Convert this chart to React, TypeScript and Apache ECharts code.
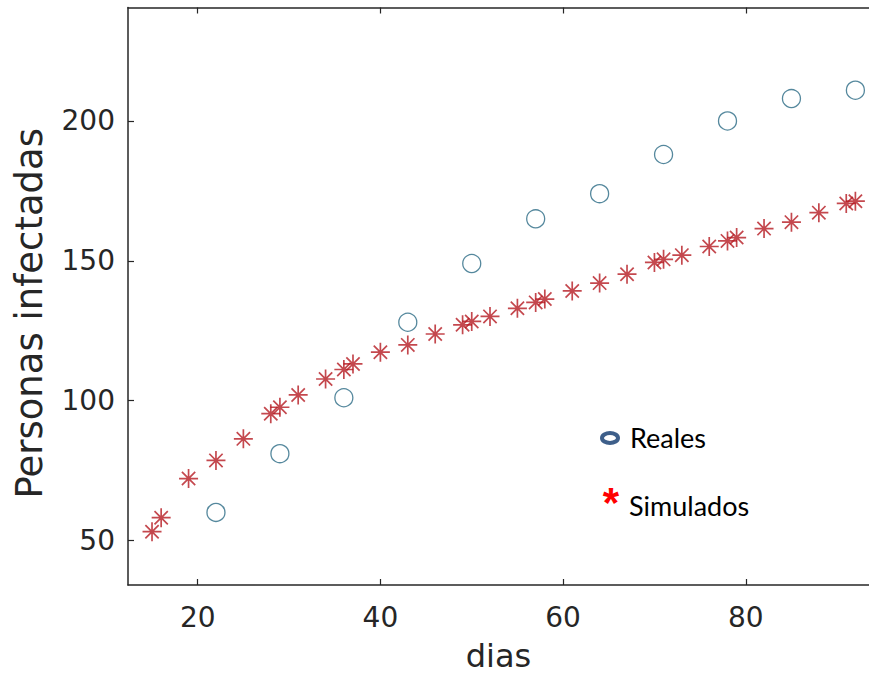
import React, { useEffect, useRef } from "react";
import * as echarts from "echarts";

const xTicks = [20, 40, 60, 80];
const yTicks = [50, 100, 150, 200];

const realesDias = [22, 29, 36, 43, 50, 57, 64, 71, 78, 85, 92];
const realesInfectados = [60, 81, 101, 128, 149, 165, 174, 188, 200, 208, 211];

const simDias = [15, 16, 19, 22, 25, 28, 29, 31, 34, 36, 37, 40, 43, 46, 49, 50, 52, 55, 57, 58, 61, 64, 67, 70, 71, 73, 76, 78, 79, 82, 85, 88, 91, 92];
const simInfectados = [53.1, 58.1, 72.1, 78.6, 86.3, 95.3, 97.6, 102, 107.7, 111.1, 113.1, 117.3, 119.9, 123.8, 127.1, 128.3, 130.1, 133, 135.1, 136.3, 139.2, 142, 145.2, 149.4, 150.5, 152, 155.1, 157.1, 158.3, 161.5, 163.8, 167.2, 170.5, 171.3];

const AXIS_COLOR = "#262626";
const FONT = "DejaVu Sans";

export default function App() {
  const ref = useRef<HTMLDivElement>(null);
  useEffect(() => {
    document.body.style.margin = "0";
    const chart = echarts.init(ref.current!, undefined, { renderer: "svg" });
    const real = realesDias.map((d, i) => [d, realesInfectados[i]]);
    const sim = simDias.map((d, i) => [d, simInfectados[i]]);
    const star = "path://M10,0L10,20M0,10L20,10M3,3L17,17M3,17L17,3";
    chart.setOption({
      animation: false,
      backgroundColor: "#ffffff",
      grid: { left: 128, top: 7.5, right: 0, bottom: 90.3, containLabel: false },
      xAxis: [
        {
          type: "value",
          min: 12.37,
          max: 93.49,
          position: "bottom",
          name: "dias",
          nameLocation: "middle",
          nameGap: 55,
          nameTextStyle: { fontFamily: FONT, fontSize: 32, color: AXIS_COLOR },
          axisLine: { show: true, onZero: false, lineStyle: { color: AXIS_COLOR, width: 1.5 } },
          axisTick: { show: true, inside: true, length: 6, customValues: xTicks, lineStyle: { color: AXIS_COLOR, width: 1.2 } },
          axisLabel: { show: true, customValues: xTicks, margin: 18, fontFamily: FONT, fontSize: 28, color: AXIS_COLOR },
          splitLine: { show: false },
        },
        {
          type: "value",
          min: 12.37,
          max: 93.49,
          position: "top",
          axisLine: { show: true, onZero: false, lineStyle: { color: AXIS_COLOR, width: 1.5 } },
          axisTick: { show: true, inside: true, length: 6, customValues: xTicks, lineStyle: { color: AXIS_COLOR, width: 1.2 } },
          axisLabel: { show: false },
          splitLine: { show: false },
        },
      ],
      yAxis: {
        type: "value",
        min: 34.03,
        max: 240.58,
        name: "Personas infectadas",
        nameLocation: "middle",
        nameGap: 80,
        nameTextStyle: { fontFamily: FONT, fontSize: 37, color: AXIS_COLOR, padding: [0, 34, 0, 0] },
        axisLine: { show: true, onZero: false, lineStyle: { color: AXIS_COLOR, width: 1.5 } },
        axisTick: { show: true, inside: true, length: 6, customValues: yTicks, lineStyle: { color: AXIS_COLOR, width: 1.2 } },
        axisLabel: { show: true, customValues: yTicks, margin: 13, fontFamily: FONT, fontSize: 28, color: AXIS_COLOR },
        splitLine: { show: false },
      },
      series: [
        {
          name: "Reales",
          type: "scatter",
          data: real,
          symbol: "circle",
          symbolSize: 18,
          itemStyle: { color: "rgba(0,0,0,0)", borderColor: "#2a6a85", borderWidth: 1.3 },
          z: 2,
        },
        {
          name: "Simulados",
          type: "scatter",
          data: sim,
          symbol: star,
          symbolSize: 19,
          itemStyle: { color: "rgba(0,0,0,0)", borderColor: "#b51a22", borderWidth: 1.7 },
          z: 3,
        },
      ],
      graphic: [
        {
          type: "ellipse",
          shape: { cx: 610, cy: 438, rx: 8, ry: 5 },
          style: { fill: "#ffffff", stroke: "#3e5f8a", lineWidth: 4 },
        },
        {
          type: "text",
          x: 630,
          y: 437,
          style: { text: "Reales", fontFamily: "Lato", fontSize: 27, fill: "#000000", align: "left", verticalAlign: "middle" },
        },
        {
          type: "text",
          x: 611,
          y: 502,
          style: { text: "*", fontFamily: "Liberation Sans", fontWeight: "bold", fontSize: 42, fill: "#ff0000", align: "center", verticalAlign: "middle" },
        },
        {
          type: "text",
          x: 629,
          y: 505,
          style: { text: "Simulados", fontFamily: "Lato", fontSize: 27, fill: "#000000", align: "left", verticalAlign: "middle" },
        },
      ],
    });
    return () => chart.dispose();
  }, []);
  return <div ref={ref} style={{ width: 869, height: 677 }} />;
}
